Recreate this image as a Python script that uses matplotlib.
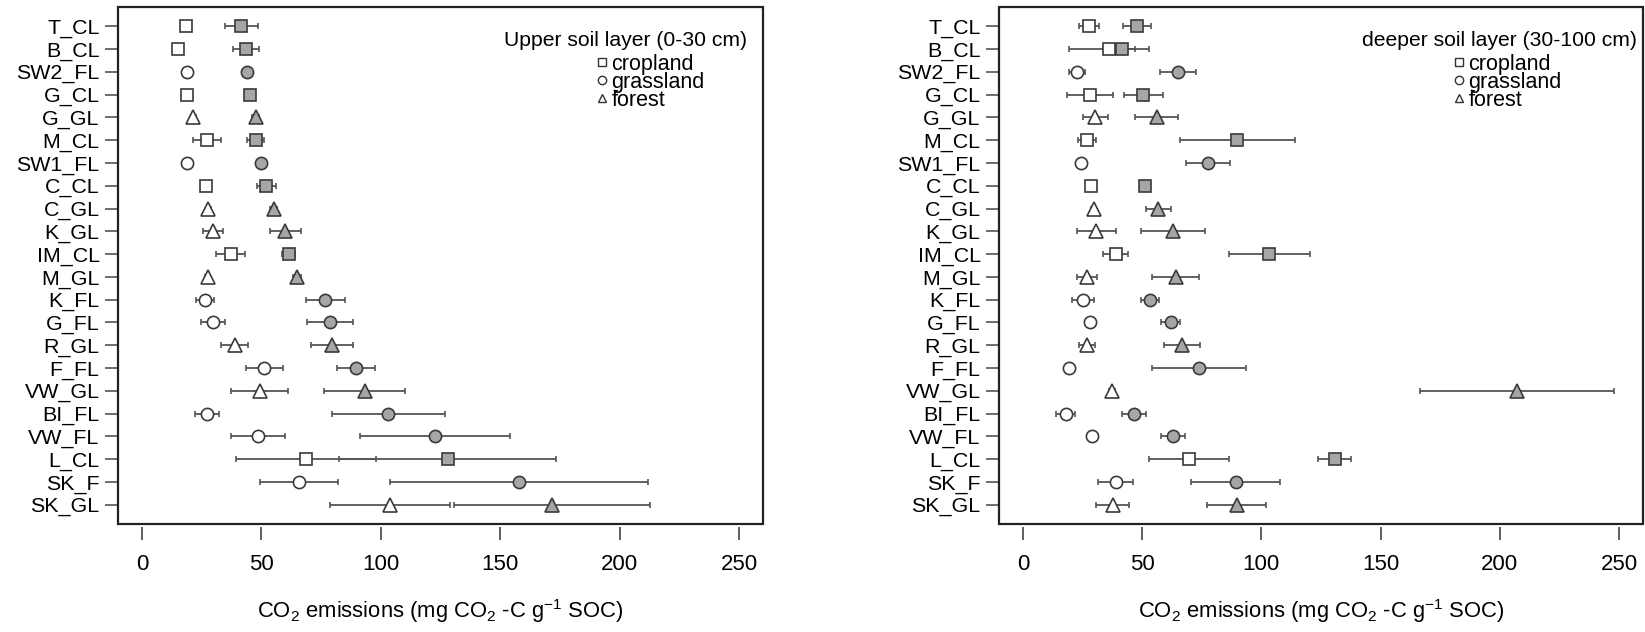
import matplotlib
matplotlib.use('Agg')
import matplotlib.pyplot as plt
from matplotlib.lines import Line2D
from matplotlib.patches import Rectangle

plt.rcParams['font.family'] = ['Liberation Sans', 'DejaVu Sans']
plt.rcParams['mathtext.default'] = 'regular'

sites = ['T_CL', 'B_CL', 'SW2_FL', 'G_CL', 'G_GL', 'M_CL', 'SW1_FL', 'C_CL', 'C_GL', 'K_GL',
         'IM_CL', 'M_GL', 'K_FL', 'G_FL', 'R_GL', 'F_FL', 'VW_GL', 'BI_FL', 'VW_FL', 'L_CL',
         'SK_F', 'SK_GL']

# upper soil layer (0-30 cm): open and grey symbols, mean and error
upper_open = [18.6, 15.1, 19.0, 19.0, 21.5, 27.4, 19.0, 26.8, 27.8, 29.7,
              37.1, 27.6, 26.5, 29.7, 38.9, 51.3, 49.3, 27.4, 48.5, 68.8,
              65.8, 103.8]
upper_open_err = [1.0, 1.0, 1.0, 1.0, 1.0, 5.8, 1.0, 1.5, 1.0, 4.2,
                  6.2, 1.0, 3.8, 5.0, 5.7, 7.7, 11.8, 5.0, 11.3, 29.2,
                  16.4, 25.2]
upper_grey = [41.5, 43.6, 44.0, 45.4, 47.6, 47.6, 50.0, 52.0, 55.1, 60.0,
              61.5, 64.9, 76.7, 78.8, 79.4, 89.6, 93.3, 103.1, 122.5, 128.0,
              157.9, 171.8]
upper_grey_err = [6.9, 5.6, 1.0, 1.5, 1.5, 3.5, 1.0, 4.0, 1.5, 6.5,
                  2.8, 1.5, 8.2, 9.6, 8.8, 8.1, 16.9, 23.6, 31.4, 45.3,
                  54.0, 41.0]

# deeper soil layer (30-100 cm)
deep_open = [27.9, 36.0, 22.8, 28.3, 30.4, 26.9, 24.2, 28.6, 29.7, 30.8,
             39.0, 26.9, 25.1, 28.0, 26.9, 19.3, 37.4, 17.9, 28.8, 69.6,
             39.0, 37.6]
deep_open_err = [4.2, 16.7, 3.4, 9.6, 5.3, 3.6, 0.8, 1.2, 1.0, 8.1,
                 5.2, 4.0, 4.6, 1.0, 3.3, 0.8, 1.2, 4.0, 1.2, 16.9,
                 7.3, 6.8]
deep_grey = [48.0, 41.5, 64.9, 50.5, 56.1, 89.9, 77.6, 51.3, 56.8, 63.0,
             103.3, 64.0, 53.3, 62.0, 66.8, 73.8, 207.2, 46.7, 63.0, 130.7,
             89.2, 89.7]
deep_grey_err = [5.9, 5.5, 7.6, 8.3, 9.0, 24.0, 9.2, 2.0, 5.2, 13.4,
                 17.0, 10.0, 3.7, 4.0, 7.5, 19.8, 40.6, 5.0, 5.0, 7.0,
                 18.8, 12.4]

xticks = [0, 50, 100, 150, 200, 250]
legend_labels = ['cropland', 'grassland', 'forest']
legend_marks = ['s', 'o', '^']


def shape_of(name):
    if name.endswith('CL'):
        return 's'
    if name.endswith('GL'):
        return '^'
    return 'o'


msize = {'s': 8.0, 'o': 8.8, '^': 10.0}


def draw_panel(ax, opn, opn_err, grey, grey_err, title, title_x, leg_x):
    for i, name in enumerate(sites):
        m = shape_of(name)
        for val, err, face in ((opn[i], opn_err[i], 'white'), (grey[i], grey_err[i], '#a6a6a6')):
            ax.errorbar(val, i + 1, xerr=err, fmt=m, ms=msize[m], mfc=face, mec='#3a3a3a',
                        mew=1.2, ecolor='#555555', elinewidth=1.3, capsize=2.2, capthick=1.3)
    ax.set_xlim(-10, 260)
    ax.set_ylim(22.84, 0.16)
    for s in ax.spines.values():
        s.set_visible(False)
    # R-style axis: ticks start just below the box
    ax.spines['bottom'].set_visible(True)
    ax.spines['bottom'].set_color('none')
    ax.spines['bottom'].set_position(('outward', 2.5))
    ax.add_patch(Rectangle((0, 0), 1, 1, fill=False, lw=1.6, ec='#222222',
                           transform=ax.transAxes, clip_on=False, zorder=5))
    ax.tick_params(axis='x', length=9.3, width=1.2, color='#444444', pad=10, labelsize=16)
    ax.tick_params(axis='y', length=9.3, width=1.2, color='#555555', pad=4, labelsize=15.4)
    ax.set_yticks(range(1, len(sites) + 1))
    ax.set_yticklabels(sites)
    ax.set_xticks(xticks)
    ax.set_xticklabels([str(t) for t in xticks])
    ax.set_xlabel(r'CO$_2$ emissions (mg CO$_2$ -C g$^{-1}$ SOC)', fontsize=15.8,
                  labelpad=16)
    ax.text(title_x, 0.936, title, transform=ax.transAxes, ha='right', va='center',
            fontsize=15.2)
    handles = [Line2D([], [], ls='none', marker=mk, ms=6, mfc='white', mec='#333333',
                      mew=1.0) for mk in legend_marks]
    ax.legend(handles, legend_labels, loc='upper left', bbox_to_anchor=(leg_x, 0.910),
              frameon=False, fontsize=15.5, borderpad=0, borderaxespad=0,
              handlelength=0.6, handletextpad=0.15, labelspacing=-0.13)


fig = plt.figure(figsize=(16.45, 6.32), dpi=100)
ax1 = fig.add_axes([118 / 1645, 108 / 632, 645 / 1645, 517 / 632])
ax2 = fig.add_axes([999 / 1645, 108 / 632, 644 / 1645, 517 / 632])

draw_panel(ax1, upper_open, upper_open_err, upper_grey, upper_grey_err,
           'Upper soil layer (0-30 cm)', 0.975, 0.740)
draw_panel(ax2, deep_open, deep_open_err, deep_grey, deep_grey_err,
           'deeper soil layer (30-100 cm)', 0.991, 0.704)

fig.savefig('out.png', dpi=100)
